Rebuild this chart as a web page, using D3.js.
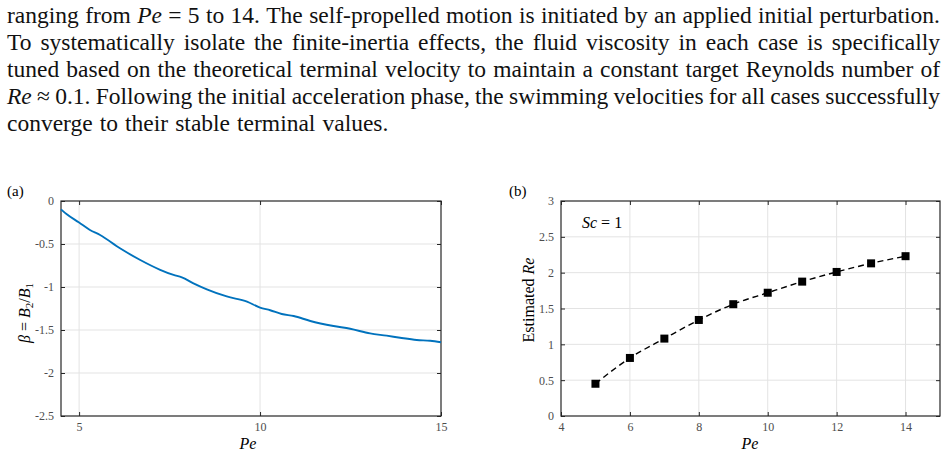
<!DOCTYPE html>
<html>
<head>
<meta charset="utf-8">
<script src="https://cdn.jsdelivr.net/npm/d3@7"></script>
<style>
  body { margin: 0; background: #fff; }
  svg { display: block; font-family: "Liberation Serif", "DejaVu Serif", serif; }
  .tick line { stroke: #262626; }
  .domain { display: none; }
</style>
</head>
<body>
<div id="chart"></div>
<script>
// paragraph above the figure
const paraLines = [
  [["ranging from ", 0], ["Pe", 1], [" = 5 to 14.  The self-propelled motion is initiated by an applied initial perturbation.", 0]],
  [["To systematically isolate the finite-inertia effects, the fluid viscosity in each case is specifically", 0]],
  [["tuned based on the theoretical terminal velocity to maintain a constant target Reynolds number of", 0]],
  [["Re", 1], [" ≈ 0.1.  Following the initial acceleration phase, the swimming velocities for all cases successfully", 0]],
  [["converge to their stable terminal values.", 0]]
];

// panel (a): beta vs Pe
const peCurve = [4.5, 4.66, 5.0, 5.3, 5.58, 6.13, 6.69, 7.24, 7.61, 7.84, 8.16, 8.53, 9.08, 9.64,
  10.0, 10.28, 10.6, 10.93, 11.39, 12.03, 12.49, 13.04, 13.5, 13.87, 14.33, 14.7, 15.0];
const betaCurve = [-0.097, -0.155, -0.25, -0.337, -0.395, -0.55, -0.686, -0.80, -0.86, -0.887, -0.957, -1.027, -1.11, -1.17,
  -1.24, -1.27, -1.314, -1.337, -1.395, -1.453, -1.485, -1.54, -1.566, -1.59, -1.616, -1.625, -1.643];
const xTicksA = [5, 10, 15];
const yTicksA = [0, -0.5, -1, -1.5, -2, -2.5];

// panel (b): estimated Re vs Pe
const peCases = [5, 6, 7, 8, 9, 10, 11, 12, 13, 14];
const reCases = [0.45, 0.81, 1.08, 1.34, 1.56, 1.72, 1.875, 2.01, 2.13, 2.23];
const xTicksB = [4, 6, 8, 10, 12, 14];
const yTicksB = [0, 0.5, 1, 1.5, 2, 2.5, 3];

const W = 949, H = 455;
const svg = d3.select("#chart").append("svg").attr("width", W).attr("height", H);

// text block, justified word by word
const fs = 23.5, left = 7, right = 940;
const para = svg.append("g").attr("font-size", fs).attr("fill", "#111");
paraLines.forEach((parts, i) => {
  const words = [];
  parts.forEach(p => p[0].split(" ").filter(w => w).forEach(w => words.push({ t: w, it: p[1] })));
  const nodes = words.map(w => para.append("text")
    .attr("y", 23 + i * 27)
    .attr("font-style", w.it ? "italic" : null)
    .text(w.t));
  const widths = nodes.map(n => n.node().getComputedTextLength());
  const total = d3.sum(widths);
  const last = i === paraLines.length - 1;
  const gap = last ? fs * 0.3 : (right - left - total) / (words.length - 1);
  let x = left;
  nodes.forEach((n, k) => { n.attr("x", x); x += widths[k] + gap; });
});

function styleTicks(sel) {
  sel.selectAll("text")
    .style("font-size", "12px")
    .style("font-family", "'Liberation Serif', serif")
    .attr("fill", "#4d4d4d");
}

function panel(box, xDom, yDom, xTicks, yTicks) {
  const x = d3.scaleLinear().domain(xDom).range([box.l, box.r]);
  const y = d3.scaleLinear().domain(yDom).range([box.b, box.t]);
  const g = svg.append("g");

  // grid
  g.selectAll(".gx").data(xTicks.filter(v => v > xDom[0] && v < xDom[1])).enter()
    .append("line")
    .attr("x1", d => x(d)).attr("x2", d => x(d))
    .attr("y1", box.t).attr("y2", box.b)
    .attr("stroke", "#e3e3e3").attr("stroke-width", 1);
  g.selectAll(".gy").data(yTicks.filter(v => v > Math.min(...yDom) && v < Math.max(...yDom))).enter()
    .append("line")
    .attr("y1", d => y(d)).attr("y2", d => y(d))
    .attr("x1", box.l).attr("x2", box.r)
    .attr("stroke", "#e3e3e3").attr("stroke-width", 1);

  // axes, ticks pointing inward
  g.append("g").attr("transform", `translate(0,${box.b})`)
    .call(d3.axisBottom(x).tickValues(xTicks).tickSize(-4).tickPadding(6).tickFormat(d => d))
    .call(styleTicks);
  g.append("g").attr("transform", `translate(0,${box.t})`)
    .call(d3.axisTop(x).tickValues(xTicks).tickSize(-4).tickFormat(""));
  g.append("g").attr("transform", `translate(${box.l},0)`)
    .call(d3.axisLeft(y).tickValues(yTicks).tickSize(-4).tickPadding(7).tickFormat(d => d))
    .call(styleTicks);
  g.append("g").attr("transform", `translate(${box.r},0)`)
    .call(d3.axisRight(y).tickValues(yTicks).tickSize(-4).tickFormat(""));

  g.append("rect")
    .attr("x", box.l).attr("y", box.t)
    .attr("width", box.r - box.l).attr("height", box.b - box.t)
    .attr("fill", "none").attr("stroke", "#262626").attr("stroke-width", 1.2);

  return { x, y, g };
}

// (a)
const A = panel({ l: 61, r: 441, t: 201, b: 416 }, [4.5, 15], [-2.5, 0], xTicksA, yTicksA);
A.g.append("path")
  .datum(peCurve.map((p, i) => [p, betaCurve[i]]))
  .attr("fill", "none")
  .attr("stroke", "#0072BD")
  .attr("stroke-width", 1.9)
  .attr("d", d3.line().x(d => A.x(d[0])).y(d => A.y(d[1])).curve(d3.curveMonotoneX));

svg.append("text").attr("x", 7).attr("y", 196).attr("font-size", 15).text("(a)");
svg.append("text").attr("x", 248).attr("y", 449).attr("font-size", 16)
  .attr("text-anchor", "middle").attr("font-style", "italic").text("Pe");
const yla = svg.append("text")
  .attr("transform", "translate(30,313) rotate(-90)")
  .attr("text-anchor", "middle").attr("font-size", 16);
yla.append("tspan").attr("font-style", "italic").text("β");
yla.append("tspan").text(" = ");
yla.append("tspan").attr("font-style", "italic").text("B");
yla.append("tspan").attr("font-size", 11).attr("dy", 3).text("2");
yla.append("tspan").attr("dy", -3).text("/");
yla.append("tspan").attr("font-style", "italic").text("B");
yla.append("tspan").attr("font-size", 11).attr("dy", 3).text("1");

// (b)
const B = panel({ l: 561, r: 940, t: 201, b: 416 }, [4, 15], [0, 3], xTicksB, yTicksB);
const pts = peCases.map((p, i) => [p, reCases[i]]);
B.g.append("path")
  .datum(pts)
  .attr("fill", "none")
  .attr("stroke", "#000")
  .attr("stroke-width", 1.4)
  .attr("stroke-dasharray", "6,4")
  .attr("d", d3.line().x(d => B.x(d[0])).y(d => B.y(d[1])).curve(d3.curveMonotoneX));
B.g.selectAll(".m").data(pts).enter()
  .append("rect")
  .attr("x", d => B.x(d[0]) - 4)
  .attr("y", d => B.y(d[1]) - 4)
  .attr("width", 8).attr("height", 8)
  .attr("fill", "#000");

svg.append("text").attr("x", 509).attr("y", 196).attr("font-size", 15).text("(b)");
svg.append("text").attr("x", 750).attr("y", 449).attr("font-size", 16)
  .attr("text-anchor", "middle").attr("font-style", "italic").text("Pe");
const ylb = svg.append("text")
  .attr("transform", "translate(534,300) rotate(-90)")
  .attr("text-anchor", "middle").attr("font-size", 16);
ylb.append("tspan").text("Estimated ");
ylb.append("tspan").attr("font-style", "italic").text("Re");
const sc = svg.append("text").attr("x", 582).attr("y", 228).attr("font-size", 16);
sc.append("tspan").attr("font-style", "italic").text("Sc");
sc.append("tspan").text(" = 1");
</script>
</body>
</html>
